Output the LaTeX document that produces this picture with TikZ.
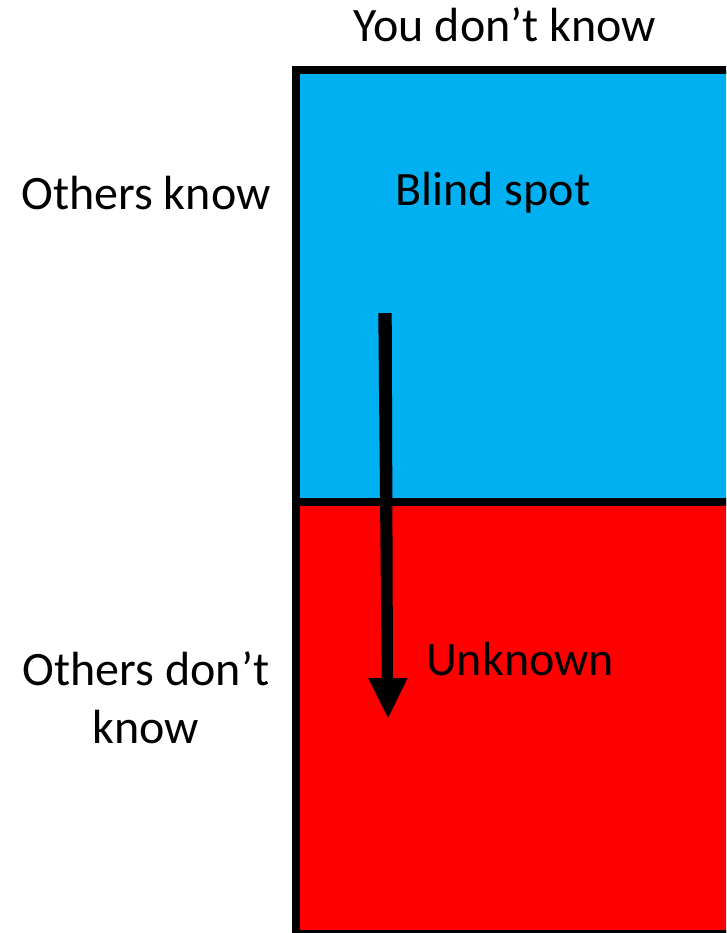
\documentclass[tikz,border=0pt]{standalone}
\usepackage{fontspec}
\setmainfont{Carlito}
\definecolor{bspot}{HTML}{00B0F0}
\definecolor{unk}{HTML}{FF0000}
\begin{document}
\begin{tikzpicture}[x=1pt,y=-1pt,
  lbl/.style={font=\fontsize{48}{58}\selectfont, align=center, inner sep=0pt},
  cell/.style={draw=black, line width=8pt}]
\useasboundingbox (0,0) rectangle (726,933);
\begin{scope}
\clip (0,0) rectangle (726,933);
\fill[bspot] (296,70) rectangle (740,501.5);
\fill[unk] (296,501.5) rectangle (740,934);
\draw[cell] (296,70) rectangle (740,934);
\draw[line width=8pt] (296,501.5) -- (740,501.5);
\end{scope}
\node[lbl] (top) at (505,25) {You don’t know};
\node[lbl] (ok) at (146,193) {Others know};
\node[lbl] (bs) at (493,193) {Blind spot};
\node[lbl] (odk) at (146,698) {Others don’t\\know};
\node[lbl] (un) at (520,659) {Unknown};
\coordinate (at) at (388,718);
\fill[black] (378.3,313) -- (391.7,313) -- (393,678) -- (407.7,678) -- (at) -- (368,678) -- (381.7,678) -- cycle;
\end{tikzpicture}
\end{document}
